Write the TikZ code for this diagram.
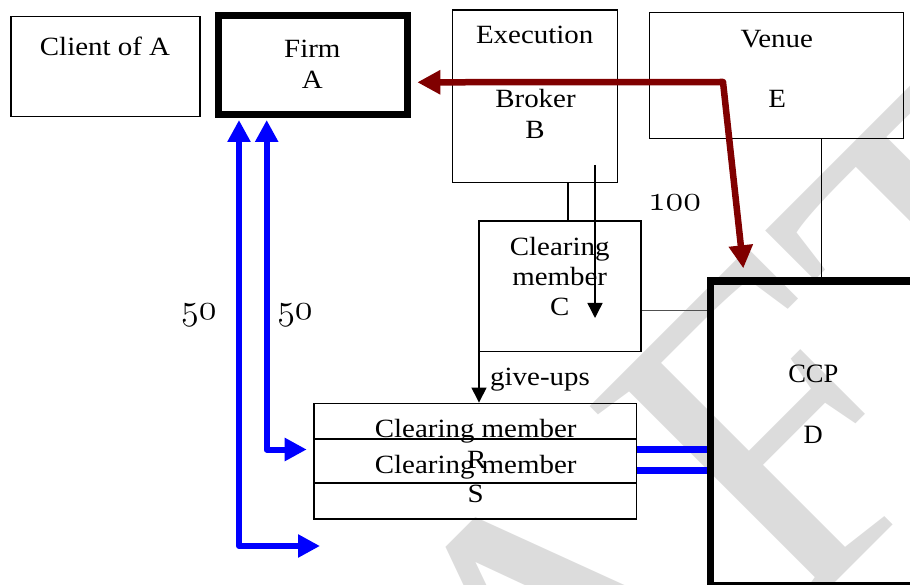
\documentclass[tikz,border=0pt]{standalone}
\usepackage{graphicx}
\usepackage{fontspec}
\setmainfont{Liberation Serif}
\newfontfamily\lblfont{Liberation Serif}[FakeStretch=1.1]
\newfontfamily\wmfont{Liberation Serif}
\usetikzlibrary{arrows.meta}
\definecolor{wmgray}{RGB}{220,220,220}
\definecolor{flowblue}{RGB}{0,0,255}
\definecolor{flowred}{RGB}{128,0,0}
\definecolor{linkgray}{RGB}{80,80,80}
% old-style figures from the math italic font
\newcommand{\osnum}[1]{\scalebox{1.45}{$\mathnormal{#1}$}}

\begin{document}
\begin{tikzpicture}[x=1pt,y=-1pt,
  box/.style={draw=black, line width=1.5pt, inner sep=0pt},
  heavybox/.style={draw=black, line width=7pt, inner sep=0pt},
  lbl/.style={font=\lblfont\fontsize{26.3}{30}\selectfont, inner sep=0pt, anchor=base},
  tnr/.style={font=\fontsize{26.5}{30}\selectfont, inner sep=0pt, anchor=base},
  num/.style={font=\fontsize{24.88}{30}\selectfont, inner sep=0pt, anchor=base},
  thinline/.style={draw=black, line width=1.4pt},
  thinarrow/.style={thinline, -{Triangle[length=15pt,width=15pt]}},
  bluearrow/.style={draw=flowblue, line width=6pt, line join=round,
    {Triangle[length=22pt,width=22pt]}-{Triangle[length=22pt,width=22pt]}},
  redarrow/.style={draw=flowred, line width=6.5pt, line join=round,
    {Triangle[length=23pt,width=23pt]}-{Triangle[length=23pt,width=23pt]}},
  bluebar/.style={draw=flowblue, line width=7pt},
]
% watermark behind everything
\begin{scope}
  \clip (0,0) rectangle (910,585);
  \node[rotate=45, anchor=base west, inner sep=0pt, text=wmgray,
        font=\wmfont\fontsize{455}{455}\selectfont] (wm) at (112,1306) {DRAFT};
\end{scope}
\useasboundingbox (0,0) rectangle (910,585);

% boxes
\node[box, minimum width=189pt, minimum height=100pt] (client) at (105.5,66.7) {};
\node[heavybox, minimum width=188.8pt, minimum height=98.7pt] (firm) at (312.9,65.15) {};
\node[box, minimum width=164.6pt, minimum height=172.3pt] (exec) at (535,96.15) {};
\node[box, minimum width=254pt, minimum height=125.6pt] (venue) at (776.3,75.5) {};
\node[box, minimum width=162pt, minimum height=130.3pt] (cmc) at (560,286.15) {};
\node[box, minimum width=322.7pt, minimum height=79.7pt] (cmr) at (475.35,443.15) {};
\node[box, minimum width=322.7pt, minimum height=80pt] (cms) at (475.35,479) {};
\node[heavybox, line width=7.5pt, minimum width=207.5pt, minimum height=304.5pt] (ccp) at (814.25,433.25) {};

% labels
\node[lbl] (tclient) at (105,56) {Client of A};
\node[lbl] (tfirm1) at (312.3,57.3) {Firm};
\node[lbl] (tfirm2) at (312.3,88.3) {A};
\node[lbl] (texec1) at (534.7,43.3) {Execution};
\node[lbl] (texec2) at (535.5,107.7) {Broker};
\node[lbl] (texec3) at (535,138.3) {B};
\node[lbl] (tvenue1) at (776.7,47.7) {Venue};
\node[lbl] (tvenue2) at (777.3,107.3) {E};
\node[lbl] (tcmc1) at (559.7,256) {Clearing};
\node[lbl] (tcmc2) at (559.7,286) {member};
\node[lbl] (tcmc3) at (559.7,316) {C};
\node[lbl, anchor=base west] (tgive) at (490,385) {give-ups};
\node[lbl] (tcmr1) at (475.7,437) {Clearing member};
\node[lbl] (tcmr2) at (476.7,468) {R};
\node[lbl] (tcms1) at (475.7,473.3) {Clearing member};
\node[lbl] (tcms2) at (475.7,502.7) {S};
\node[tnr] (tccp1) at (813.3,382) {CCP};
\node[tnr] (tccp2) at (813.3,443.3) {D};
\node[num] (n100) at (674.5,211) {\osnum{100}};
\node[num] (n50a) at (198.8,319.3) {\osnum{50}};
\node[num] (n50b) at (295,319.3) {\osnum{50}};

% plain links
\coordinate (bx) at (568,0);
\draw[thinline] (bx |- exec.south) -- (bx |- cmc.north);
\coordinate (vx) at (821.7,0);
\draw[thinline] (vx |- venue.south) -- (vx |- ccp.north);
\coordinate (cy) at (0,310.3);
\draw[draw=linkgray, line width=1.2pt] (cmc.east |- cy) -- (ccp.west |- cy);

% order flow through the broker
\coordinate (ordtop) at (595,165);
\coordinate (ordend) at (595,318);
\draw[thinarrow] (ordtop) -- (ordend);

% give-ups
\coordinate (gx) at (479,0);
\draw[thinarrow] (gx |- cmc.south) -- (gx |- cmr.north);

% blue double arrows between the firm and its clearing members
\coordinate (b1top) at (239,120);
\coordinate (b1turn) at (239,546);
\coordinate (b1end) at (320,546);
\draw[bluearrow] (b1top) -- (b1turn) -- (b1end);
\coordinate (b2top) at (266.7,120);
\coordinate (b2turn) at (266.7,449.5);
\coordinate (b2end) at (306.7,449.5);
\draw[bluearrow] (b2top) -- (b2turn) -- (b2end);

% clearing members to CCP
\coordinate (bar1) at (0,449.3);
\coordinate (bar2) at (0,470.7);
\draw[bluebar] (cmr.east |- bar1) -- (ccp.west |- bar1);
\draw[bluebar] (cmr.east |- bar2) -- (ccp.west |- bar2);

% firm to CCP via the venue
\coordinate (rleft) at (417.3,82.3);
\coordinate (rturn) at (723,82);
\coordinate (rtip) at (743.3,268.3);
\draw[redarrow] (rleft) -- (rturn) -- (rtip);
\end{tikzpicture}
\end{document}
